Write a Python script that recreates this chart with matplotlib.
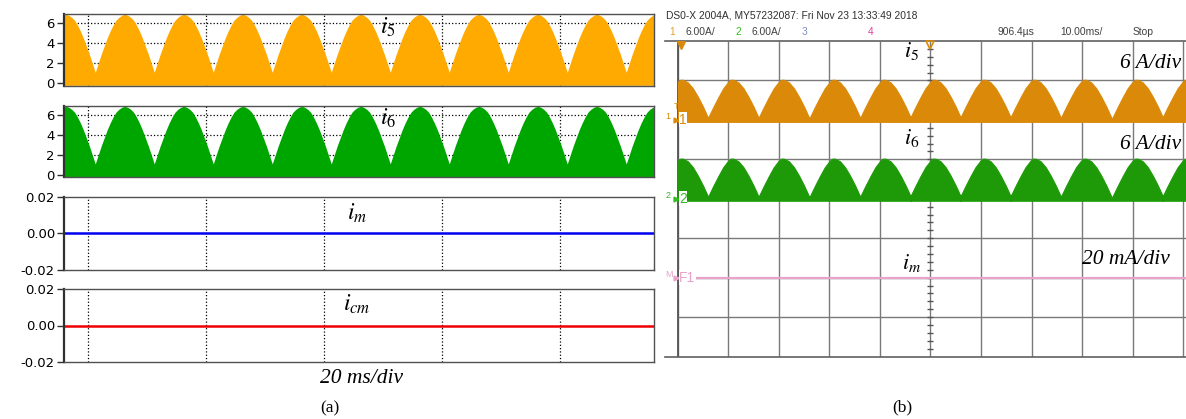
import numpy as np
import matplotlib.pyplot as plt
from matplotlib.patches import Rectangle
from matplotlib.ticker import FormatStrFormatter

plt.rcParams['axes.unicode_minus'] = False
plt.rcParams['mathtext.fontset'] = 'stix'

# ---------------- (a) simulation, time in ms ----------------
sim_valleys = [-4.7, 5.3, 15.3, 25.3, 35.3, 45.3, 55.3, 65.3, 75.3, 85.3, 95.3]
hump_dt = [0, 0.5, 1, 1.5, 2, 2.5, 3, 3.5, 4, 4.5, 5,
           5.5, 6, 6.5, 7, 7.5, 8, 8.5, 9, 9.5, 10]
i5_hump = [1.1, 2.0, 2.9, 3.7, 4.5, 5.2, 5.8, 6.3, 6.6, 6.8, 6.9,
           6.8, 6.6, 6.3, 5.8, 5.2, 4.5, 3.7, 2.9, 2.0, 1.1]
i6_hump = [1.1, 2.0, 2.9, 3.7, 4.5, 5.2, 5.8, 6.3, 6.6, 6.8, 6.9,
           6.8, 6.6, 6.3, 5.8, 5.2, 4.5, 3.7, 2.9, 2.0, 1.1]
im_t = [0, 100]
im_sim = [0.0, 0.0]
icm_sim = [0.0, 0.0]
sim_grid_t = [4, 24, 44, 64, 84]

# ---------------- (b) oscilloscope, time in ms ----------------
scope_valleys = [-4.0, 6.0, 16.0, 26.1, 36.1, 46.0, 55.9, 65.8, 75.8, 86.0, 95.9]
scope_dt = [0, 1, 2, 3, 4, 4.5, 5, 6, 7, 8, 9, 10]
ch1_hump = [0.3, 1.9, 3.4, 4.8, 5.8, 6.1, 6.1, 5.7, 4.8, 3.5, 2.0, 0.3]   # A
ch2_hump = [0.3, 1.9, 3.4, 4.8, 5.8, 6.1, 6.1, 5.7, 4.8, 3.5, 2.0, 0.3]   # A
ch_scale = 6.0      # A/div
ch1_offset = 6      # div
ch2_offset = 4      # div
im_scope_t = [0, 101]
im_scope = [0.0, 0.0]   # mA
im_scale = 20.0     # mA/div
im_offset = 2       # div

ORANGE = '#FFAA00'
GREEN = '#00A600'
S_ORANGE = '#DB8908'
S_GREEN = '#1E9A08'
PINK = '#E8A3C9'

W, H = 1186, 419
fig = plt.figure(figsize=(W / 100, H / 100), dpi=100)


def px_axes(l, t, r, b):
    return fig.add_axes([l / W, 1 - b / H, (r - l) / W, (b - t) / H])


def tile(valleys, dt, vals):
    t = np.concatenate([v + np.asarray(dt) for v in valleys])
    y = np.concatenate([np.asarray(vals) for _ in valleys])
    return t, y


def style_sim(ax, ygrid):
    for s in ax.spines.values():
        s.set_color('#505050')
        s.set_linewidth(1.0)
    ax.spines['left'].set_color('#303030')
    ax.spines['left'].set_linewidth(1.6)
    ax.set_xlim(0, 100)
    ax.set_xticks(sim_grid_t)
    ax.tick_params(axis='x', length=0, labelbottom=False)
    ax.tick_params(axis='y', length=5, width=1, color='#303030',
                   labelsize=9.5, pad=1.5)
    ax.grid(axis='x', ls=':', color='black', lw=0.9)
    if ygrid:
        ax.grid(axis='y', ls=':', color='black', lw=0.9)
    ax.set_axisbelow(True)


lab_font = dict(fontsize=17, color='black')

ax1 = px_axes(64, 14, 654, 86)
t, y = tile(sim_valleys, hump_dt, i5_hump)
ax1.fill_between(t, -0.2, y, color=ORANGE, lw=0)
ax1.set_ylim(-0.27, 6.93)
ax1.set_yticks([0, 2, 4, 6])
style_sim(ax1, True)
ax1.text(54.9, 5.6, r'$i_{\mathit{5}}$', ha='center', va='center', **lab_font)

ax2 = px_axes(64, 106, 654, 177)
t, y = tile(sim_valleys, hump_dt, i6_hump)
ax2.fill_between(t, -0.2, y, color=GREEN, lw=0)
ax2.set_ylim(-0.22, 6.93)
ax2.set_yticks([0, 2, 4, 6])
style_sim(ax2, True)
ax2.text(54.9, 5.7, r'$i_{\mathit{6}}$', ha='center', va='center', **lab_font)

ax3 = px_axes(64, 197, 654, 270)
ax3.plot(im_t, im_sim, color='#0000EE', lw=1.8)
ax3.set_ylim(-0.02, 0.02)
ax3.set_yticks([-0.02, 0, 0.02])
ax3.yaxis.set_major_formatter(FormatStrFormatter('%.2f'))
style_sim(ax3, False)
ax3.text(49.6, 0.0111, r'$i_{m}$', ha='center', va='center', **lab_font)

ax4 = px_axes(64, 289, 654, 362)
ax4.plot(im_t, icm_sim, color='#EE0000', lw=1.8)
ax4.set_ylim(-0.02, 0.02)
ax4.set_yticks([-0.02, 0, 0.02])
ax4.yaxis.set_major_formatter(FormatStrFormatter('%.2f'))
style_sim(ax4, False)
ax4.text(49.6, 0.012, r'$i_{cm}$', ha='center', va='center', **lab_font)

fig.text(362 / W, 1 - 378 / H, '20 ms/div', ha='center', va='center',
         family='Liberation Serif', style='italic', fontsize=15.5)
fig.text(330 / W, 1 - 408 / H, '(a)', ha='center', va='center',
         family='Liberation Serif', fontsize=12.5)

# ---------------- scope screen ----------------
axs = px_axes(665, 41, W + 1, 356.5)
axs.set_xlim(-2.52, 100.75)
axs.set_ylim(0, 8)
axs.set_xticks([])
axs.set_yticks([])
for k in ['left', 'right']:
    axs.spines[k].set_visible(False)
for k in ['top', 'bottom']:
    axs.spines[k].set_color('#606060')
    axs.spines[k].set_linewidth(1.2)

axs.vlines(np.arange(0, 101, 10), 0, 8, color='#7a7a7a', lw=1.0, zorder=1)
axs.vlines([0], 0, 8, color='#555555', lw=1.3, zorder=1)
axs.hlines(np.arange(1, 8), 0, 101, color='#7a7a7a', lw=1.0, zorder=1)
minor = np.arange(0.2, 8, 0.2)
axs.plot(np.full(len(minor), 50), minor, ls='none', marker='_', ms=5,
         mew=1, color='#555555', zorder=1)

clip = Rectangle((0, 0), 101, 8, transform=axs.transData)
for valleys, hump, off, col in [(scope_valleys, ch1_hump, ch1_offset, S_ORANGE),
                                (scope_valleys, ch2_hump, ch2_offset, S_GREEN)]:
    t, y = tile(valleys, scope_dt, hump)
    poly = axs.fill_between(t, off - 0.05, off + y / ch_scale, color=col,
                            lw=0.8, edgecolor=col, zorder=3)
    poly.set_clip_path(clip)
    ln, = axs.plot(t, np.full(len(t), off), color=col, lw=1.8, zorder=3)
    ln.set_clip_path(clip)

axs.plot(im_scope_t, im_offset + np.asarray(im_scope) / im_scale,
         color=PINK, lw=1.6, zorder=3)

# trigger / markers
axs.plot(0.7, 7.9, marker='v', ms=6, color=S_ORANGE, zorder=4)
axs.plot(50, 7.9, marker='v', ms=6, mfc='none', mec=S_ORANGE, mew=1.2,
         zorder=4, clip_on=False)

small = dict(family=['Liberation Sans', 'DejaVu Sans'], va='center')
for off, tag, col in [(ch1_offset, '1', S_ORANGE), (ch2_offset, '2', '#33BB22'),
                      (im_offset, 'F1', PINK)]:
    axs.text(-2.45, off + 0.08, 'M' if tag == 'F1' else tag, fontsize=6.5,
             color=col, **small)
    axs.plot(-0.35, off, marker='>', ms=3.5, color=col, zorder=4)
    axs.text(0.25, off, tag, fontsize=10, color=col, zorder=5,
             bbox=dict(fc='white', ec='none', pad=0.3), **small)
axs.text(-0.8, 6.35, 'T', fontsize=6.5, color=S_ORANGE, **small)

sc_font = dict(family='Liberation Serif', style='italic', fontsize=15.5,
               va='center')
axs.text(46.3, 7.75, r'$i_{\mathit{5}}$', fontsize=16, ha='center', va='center')
axs.text(99.6, 7.42, '6 A/div', ha='right', **sc_font)
axs.text(46.3, 5.55, r'$i_{\mathit{6}}$', fontsize=16, ha='center', va='center')
axs.text(99.6, 5.38, '6 A/div', ha='right', **sc_font)
axs.text(46.3, 2.38, r'$i_{m}$', fontsize=16, ha='center', va='center')
axs.text(97.4, 2.45, '20 mA/div', ha='right', **sc_font)

# header of the scope screenshot
hdr = dict(family=['Liberation Sans', 'DejaVu Sans'], fontsize=7.4,
           va='center')
fig.text(666 / W, 1 - 15 / H,
         'DS0-X 2004A, MY57232087: Fri Nov 23 13:33:49 2018',
         color='#303030', **hdr)
for x, s, c in [(669, '1', '#E8A030'), (686, '6.00A/', '#404040'),
                (735, '2', '#33BB22'), (752, '6.00A/', '#404040'),
                (802, '3', '#8090C8'), (868, '4', '#E040A0'),
                (997, '906.4µs', '#404040'), (1060, '10.00ms/', '#404040'),
                (1133, 'Stop', '#404040')]:
    fig.text(x / W, 1 - 32 / H, s, color=c, **hdr)

fig.text(902 / W, 1 - 407 / H, '(b)', ha='center', va='center',
         family='Liberation Serif', fontsize=12.5)

fig.savefig('out.png', dpi=100)
